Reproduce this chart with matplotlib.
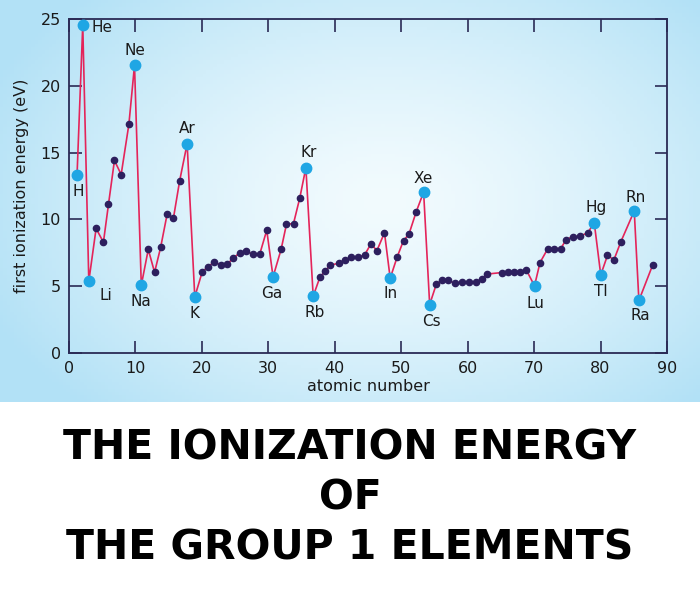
import numpy as np
import matplotlib
matplotlib.use('Agg')
import matplotlib.pyplot as plt


# positions along the atomic number axis as drawn, and first ionization energies (eV)
z_pos = [1.21, 2.07, 2.98, 4.08, 5.18, 5.94, 6.84, 7.85, 9.01, 9.86,
         10.88, 11.93, 12.88, 13.79, 14.76, 15.71, 16.66, 17.78, 18.93, 20.05,
         20.89, 21.80, 22.81, 23.82, 24.73, 25.68, 26.59, 27.69, 28.70, 29.76,
         30.71, 31.92, 32.73, 33.79, 34.74, 35.65, 36.75, 37.76, 38.52, 39.32,
         40.59, 41.54, 42.49, 43.55, 44.52, 45.47, 46.33, 47.48, 48.34, 49.40,
         50.35, 51.16, 52.27, 53.37, 54.28, 55.29, 56.19, 57.06, 58.05, 59.11,
         60.20, 61.25, 62.19, 62.96, 65.11, 66.01, 67.02, 67.94, 68.85, 70.06,
         70.89, 72.05, 73.04, 74.02, 74.82, 75.80, 76.89, 78.07, 79.05, 80.03,
         81.04, 82.02, 83.04, 85.07, 85.77, 87.87]
energy = [13.31, 24.55, 5.37, 9.32, 8.29, 11.12, 14.41, 13.36, 17.11, 21.53,
          5.07, 7.75, 6.04, 7.90, 10.37, 10.07, 12.91, 15.66, 4.20, 6.07,
          6.45, 6.79, 6.62, 6.67, 7.09, 7.50, 7.62, 7.39, 7.39, 9.19,
          5.70, 7.75, 9.64, 9.69, 11.62, 13.87, 4.25, 5.67, 6.12, 6.57,
          6.72, 6.97, 7.15, 7.15, 7.37, 8.19, 7.65, 9.00, 5.60, 7.20,
          8.42, 8.89, 10.59, 12.04, 3.63, 5.16, 5.45, 5.45, 5.21, 5.33,
          5.33, 5.31, 5.56, 5.91, 6.02, 6.04, 6.06, 6.10, 6.19, 5.03,
          6.77, 7.80, 7.81, 7.82, 8.49, 8.70, 8.74, 9.00, 9.75, 5.85,
          7.30, 6.98, 8.31, 10.63, 3.93, 6.62]

# highlighted elements and their index in the lists above
marked_names = ['H', 'He', 'Li', 'Ne', 'Na', 'Ar', 'K', 'Ga', 'Kr', 'Rb',
                'In', 'Xe', 'Cs', 'Lu', 'Hg', 'Tl', 'Rn', 'Ra']
marked_index = [0, 1, 2, 9, 10, 17, 18, 30, 35, 36,
                48, 53, 54, 69, 78, 79, 83, 84]

x_ticks = [0, 10, 20, 30, 40, 50, 60, 70, 80, 90]
y_ticks = [0, 5, 10, 15, 20, 25]

# label offsets (points)
label_offset = {'H': (1, -12), 'He': (14, -2), 'Li': (12, -10), 'Ne': (0, 11),
                'Na': (0, -12), 'Ar': (0, 11), 'K': (0, -12), 'Ga': (-1, -12),
                'Kr': (2, 11), 'Rb': (1, -12), 'In': (0, -11), 'Xe': (0, 10),
                'Cs': (1, -12), 'Lu': (1, -13), 'Hg': (1, 11), 'Tl': (0, -12),
                'Rn': (1, 10), 'Ra': (1, -11)}

fig = plt.figure(figsize=(7, 6), dpi=100)
fig.patch.set_facecolor('white')

# light blue gradient panel behind the chart
bg = fig.add_axes([0, 1 - 402 / 600, 1, 402 / 600])
gx, gy = np.meshgrid(np.linspace(0, 1, 200), np.linspace(0, 1, 120))
r = np.sqrt(((gx - 0.55) / 0.62) ** 2 + ((gy - 0.5) / 0.72) ** 2)
t = np.clip(r, 0, 1)[..., None] ** 1.4
c_in = np.array([242, 251, 254]) / 255
c_out = np.array([178, 225, 246]) / 255
bg.imshow(c_in * (1 - t) + c_out * t, aspect='auto', extent=[0, 1, 0, 1])
bg.axis('off')

ax = fig.add_axes([69 / 700, 1 - 353 / 600, 598 / 700, 334 / 600])
ax.set_facecolor('none')

ax.plot(z_pos, energy, color='#e4245a', lw=1.2, zorder=2)
ax.plot(z_pos, energy, 'o', color='#2d1f5e', ms=4.5, zorder=3)

mx = [z_pos[i] for i in marked_index]
my = [energy[i] for i in marked_index]
ax.plot(mx, my, 'o', color='#1fa6e4', ms=7.5, zorder=4)

for name, i in zip(marked_names, marked_index):
    dx, dy = label_offset[name]
    ax.annotate(name, (z_pos[i], energy[i]), xytext=(dx, dy),
                textcoords='offset points', ha='center', va='center',
                fontsize=11, color='#1a1a1a')

ax.set_xlim(0, 90)
ax.set_ylim(0, 25)
ax.set_xticks(x_ticks)
ax.set_yticks(y_ticks)
ax.tick_params(direction='in', length=9, width=1.2, color='#2a2a55',
               top=True, right=True, labelsize=11.5, labelcolor='#1a1a1a', pad=6)
for s in ax.spines.values():
    s.set_color('#2a2a55')
    s.set_linewidth(1.3)

ax.set_xlabel('atomic number', fontsize=11.5, color='#1a1a1a', labelpad=2)
ax.set_ylabel('first ionization energy (eV)', fontsize=11.5, color='#1a1a1a', labelpad=8)

# caption under the chart
caption = ['THE IONIZATION ENERGY', 'OF', 'THE GROUP 1 ELEMENTS']
for k, line in enumerate(caption):
    fig.text(0.5, 1 - (448 + 50 * k) / 600, line, ha='center', va='center',
             fontsize=29.5, fontweight='bold', family='DejaVu Sans', color='black')

fig.savefig('out.png', dpi=100)
